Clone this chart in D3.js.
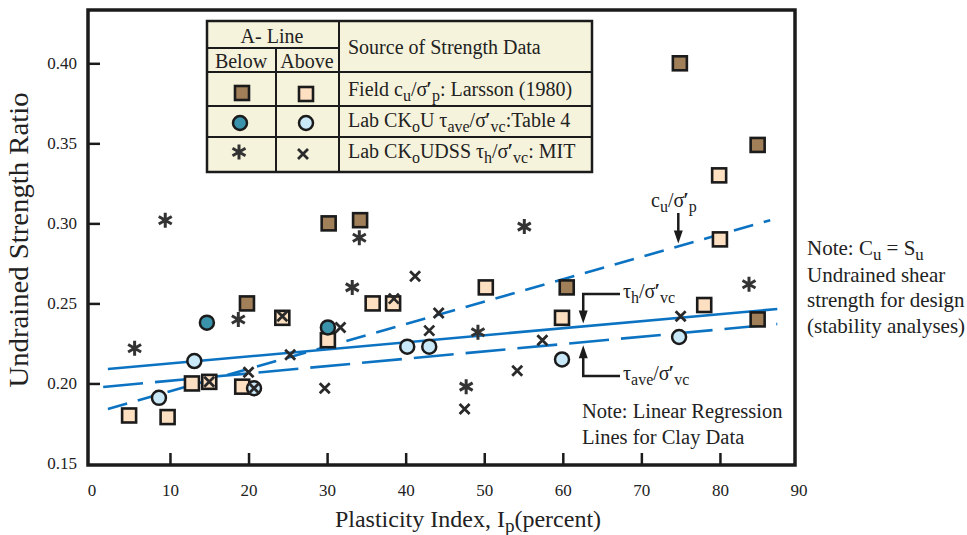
<!DOCTYPE html>
<html>
<head>
<meta charset="utf-8">
<script src="https://cdn.jsdelivr.net/npm/d3@7"></script>
<style>
  body { margin: 0; background: #fff; }
  text { font-family: "Liberation Serif", "Times New Roman", serif; fill: #222; }
</style>
</head>
<body>
<div id="container"></div>
<script>
const WIDTH = 967;
const HEIGHT = 535;

// [plasticity index, strength ratio]
const fieldBelow = [[74.9, 0.400], [84.8, 0.349], [30.2, 0.300], [34.2, 0.302], [19.8, 0.250],
                    [60.5, 0.260], [84.8, 0.240]];
const fieldAbove = [[79.9, 0.330], [80.0, 0.290], [35.8, 0.250], [38.4, 0.250], [24.3, 0.241],
                    [30.1, 0.227], [12.8, 0.200], [15.0, 0.201], [19.2, 0.198], [4.8, 0.180],
                    [9.7, 0.179], [50.2, 0.260], [59.9, 0.241], [78.0, 0.249]];
const ckouBelow = [[14.7, 0.238], [30.1, 0.235]];
const ckouAbove = [[13.1, 0.214], [20.7, 0.197], [8.6, 0.191], [40.2, 0.223], [43.0, 0.223],
                   [59.9, 0.215], [74.8, 0.229]];
const dssBelow = [[9.4, 0.302], [34.1, 0.291], [33.2, 0.260], [18.7, 0.240], [5.5, 0.222],
                  [55.1, 0.298], [83.7, 0.262], [49.2, 0.232], [47.7, 0.198]];
const dssAbove = [[24.3, 0.242], [31.7, 0.235], [25.3, 0.218], [20.0, 0.207], [15.0, 0.201],
                  [20.7, 0.197], [29.7, 0.197], [38.5, 0.253], [41.2, 0.267], [44.2, 0.244],
                  [43.0, 0.233], [57.4, 0.227], [54.2, 0.208], [47.5, 0.184], [75.0, 0.242]];

// regression lines, end points
const cuLine = [[2.1, 0.184], [86.4, 0.302]];
const tauHLine = [[2.1, 0.209], [87.3, 0.2465]];
const tauAveLine = [[1.5, 0.1978], [87.3, 0.2371]];

const xTicks = [0, 10, 20, 30, 40, 50, 60, 70, 80, 90];
const yTicks = [0.15, 0.20, 0.25, 0.30, 0.35, 0.40];

const BROWN = '#a17f59';
const PEACH = '#fde0c2';
const TEAL = '#3a93aa';
const PALE = '#c9e9f8';
const BLUE = '#0c73c2';
const INK = '#1b1b1b';
const SERIF = '"Liberation Serif", "Times New Roman", serif';

const svg = d3.select('#container')
              .append('svg')
                .attr('width', WIDTH)
                .attr('height', HEIGHT);

const x = d3.scaleLinear().domain([0, 90]).range([91.4, 798.5]);
const y = d3.scaleLinear().domain([0.15, 0.40]).range([463.5, 63.3]);

// axes, ticks pointing inward
const xAxis = svg.append('g')
                 .attr('transform', 'translate(0, 465)')
                 .call(d3.axisBottom(x).tickValues(xTicks).tickFormat(d3.format('d'))
                         .tickSize(-12).tickPadding(19));
const yAxis = svg.append('g')
                 .attr('transform', 'translate(88, 0)')
                 .call(d3.axisLeft(y).tickValues(yTicks).tickFormat(d3.format('.2f'))
                         .tickSize(-12).tickPadding(11));

[xAxis, yAxis].forEach(a => {
    a.attr('font-family', SERIF).attr('font-size', 17);
    a.select('.domain').remove();
    a.selectAll('.tick line').attr('stroke', INK).attr('stroke-width', 2.5);
    a.selectAll('.tick text')
       .style('font-family', SERIF)
       .style('font-size', '17px')
       .attr('fill', '#333');
});
xAxis.selectAll('.tick line').filter(d => d === 0 || d === 90).remove();
yAxis.selectAll('.tick line').filter(d => d === 0.15).remove();

// regression lines
const line = d3.line().x(d => x(d[0])).y(d => y(d[1]));
const regs = [
    { pts: cuLine, dash: '20,11' },
    { pts: tauHLine, dash: null },
    { pts: tauAveLine, dash: '40,12' }
];
svg.selectAll('.reg')
   .data(regs)
   .enter()
   .append('path')
     .attr('class', 'reg')
     .attr('d', d => line(d.pts))
     .attr('fill', 'none')
     .attr('stroke', BLUE)
     .attr('stroke-width', 2.6)
     .attr('stroke-dasharray', d => d.dash);

// marker painters
const asteriskPath = r => {
    const u = r * Math.sqrt(3) / 2, t = r / 2;
    return `M0,${-r}L0,${r}M${-u},${-t}L${u},${t}M${-u},${t}L${u},${-t}`;
};
const crossPath = r => `M${-r},${-r}L${r},${r}M${-r},${r}L${r},${-r}`;

const drawSquares = (g, data, fill) => g.selectAll(null).data(data).enter()
    .append('rect')
      .attr('x', d => d[0] - 7).attr('y', d => d[1] - 7)
      .attr('width', 14).attr('height', 14)
      .attr('fill', fill).attr('stroke', INK).attr('stroke-width', 2.6);
const drawCircles = (g, data, fill) => g.selectAll(null).data(data).enter()
    .append('circle')
      .attr('cx', d => d[0]).attr('cy', d => d[1]).attr('r', 7)
      .attr('fill', fill).attr('stroke', INK).attr('stroke-width', 2.5);
const drawAsterisks = (g, data) => g.selectAll(null).data(data).enter()
    .append('path')
      .attr('transform', d => `translate(${d[0]},${d[1]})`)
      .attr('d', asteriskPath(7.5))
      .attr('stroke', '#333').attr('stroke-width', 3);
const drawCrosses = (g, data) => g.selectAll(null).data(data).enter()
    .append('path')
      .attr('transform', d => `translate(${d[0]},${d[1]})`)
      .attr('d', crossPath(5))
      .attr('stroke', '#2a2a2a').attr('stroke-width', 2.8);

const toPx = data => data.map(d => [x(d[0]), y(d[1])]);
const marks = svg.append('g');
drawSquares(marks, toPx(fieldBelow), BROWN);
drawSquares(marks, toPx(fieldAbove), PEACH);
drawCircles(marks, toPx(ckouBelow), TEAL);
drawCircles(marks, toPx(ckouAbove), PALE);
drawAsterisks(marks, toPx(dssBelow));
drawCrosses(marks, toPx(dssAbove));

// frame
svg.append('rect')
     .attr('x', 88).attr('y', 10)
     .attr('width', 707).attr('height', 455)
     .attr('fill', 'none')
     .attr('stroke', INK)
     .attr('stroke-width', 3.5);

// rich text helper: parts are [text, 'sub' | 'prime' | null]
const richText = (g, px, py, parts, size, anchor) => {
    const t = g.append('text')
               .attr('x', px).attr('y', py)
               .attr('text-anchor', anchor || 'start')
               .style('font-size', size + 'px');
    let shift = 0;
    parts.forEach(([s, kind]) => {
        const sp = t.append('tspan').text(s);
        if (kind === 'sub') {
            sp.attr('dy', 5 - shift).style('font-size', (size * 0.8) + 'px');
            shift = 5;
        } else if (kind === 'prime') {
            sp.attr('dy', -shift).style('font-weight', 'bold').attr('dx', -1);
            shift = 0;
        } else {
            sp.attr('dy', -shift);
            shift = 0;
        }
    });
    return t;
};

// legend table
const LX = 207, LY = 21;
const legend = svg.append('g');
legend.append('rect')
        .attr('x', LX).attr('y', LY)
        .attr('width', 385).attr('height', 151)
        .attr('fill', '#f6f3dc')
        .attr('stroke', INK).attr('stroke-width', 2.5);
const tableLines = [
    [276, 48, 276, 172], [339, 21, 339, 172],
    [207, 48, 339, 48], [207, 72, 592, 72], [207, 106, 592, 106], [207, 137, 592, 137]
];
legend.selectAll('line')
      .data(tableLines)
      .enter()
      .append('line')
        .attr('x1', d => d[0]).attr('y1', d => d[1])
        .attr('x2', d => d[2]).attr('y2', d => d[3])
        .attr('stroke', INK).attr('stroke-width', 2);

richText(legend, 272, 43, [['A- Line']], 20, 'middle');
richText(legend, 241, 68, [['Below']], 20, 'middle');
richText(legend, 307, 68, [['Above']], 20, 'middle');
richText(legend, 348, 54, [['Source of Strength Data']], 20);
richText(legend, 348, 96, [['Field c'], ['u', 'sub'], ['/σ'], ['′', 'prime'], ['p', 'sub'],
                           [': Larsson (1980)']], 20);
richText(legend, 348, 127, [['Lab CK'], ['o', 'sub'], ['U τ'], ['ave', 'sub'], ['/σ'],
                            ['′', 'prime'], ['vc', 'sub'], [':Table 4']], 20);
richText(legend, 348, 158, [['Lab CK'], ['o', 'sub'], ['UDSS τ'], ['h', 'sub'], ['/σ'],
                            ['′', 'prime'], ['vc', 'sub'], [': MIT']], 20);

drawSquares(legend, [[242, 93]], BROWN);
drawSquares(legend, [[306, 94]], PEACH);
drawCircles(legend, [[240, 123]], TEAL);
drawCircles(legend, [[306, 123]], PALE);
drawAsterisks(legend, [[239, 152]]);
drawCrosses(legend, [[303, 154]]);

// annotations with arrows
const at = (pts, v) => {
    const [[x0, y0], [x1, y1]] = pts;
    return y0 + (y1 - y0) * (v - x0) / (x1 - x0);
};
const arrowHead = (g, px, py, dir) => {
    g.append('path')
       .attr('d', `M${px},${py}L${px - 4.5},${py - dir * 13}L${px + 4.5},${py - dir * 13}Z`)
       .attr('fill', INK);
};
const notes = svg.append('g');

const cuAt = 74.7;
const cuTip = y(at(cuLine, cuAt)) - 3;
notes.append('line')
       .attr('x1', x(cuAt)).attr('y1', 213).attr('x2', x(cuAt)).attr('y2', cuTip - 10)
       .attr('stroke', INK).attr('stroke-width', 2.5);
arrowHead(notes, x(cuAt), cuTip, 1);
richText(notes, 651, 207, [['c'], ['u', 'sub'], ['/σ'], ['′', 'prime'], ['p', 'sub']], 20);

const tauAt = 62.6;
const hTip = y(at(tauHLine, tauAt)) - 3;
notes.append('path')
       .attr('d', `M620,294H${x(tauAt)}V${hTip - 10}`)
       .attr('fill', 'none').attr('stroke', INK).attr('stroke-width', 2.5);
arrowHead(notes, x(tauAt), hTip, 1);
richText(notes, 623, 298, [['τ'], ['h', 'sub'], ['/σ'], ['′', 'prime'], ['vc', 'sub']], 20);

const aveTip = y(at(tauAveLine, tauAt)) + 3;
notes.append('path')
       .attr('d', `M620,376H${x(tauAt)}V${aveTip + 10}`)
       .attr('fill', 'none').attr('stroke', INK).attr('stroke-width', 2.5);
arrowHead(notes, x(tauAt), aveTip, -1);
richText(notes, 623, 380, [['τ'], ['ave', 'sub'], ['/σ'], ['′', 'prime'], ['vc', 'sub']], 20);

richText(notes, 582, 418, [['Note: Linear Regression']], 20.5);
richText(notes, 582, 444, [['Lines for Clay Data']], 20.5);

// right side note
richText(notes, 807, 255, [['Note: C'], ['u', 'sub'], [' = S'], ['u', 'sub']], 21);
richText(notes, 807, 282, [['Undrained shear']], 21);
richText(notes, 807, 307, [['strength for design']], 21);
richText(notes, 807, 333, [['(stability analyses)']], 21);

// axis titles
richText(svg, 468, 527, [['Plasticity Index, I'], ['p', 'sub'], ['(percent)']], 24, 'middle');
svg.append('text')
     .attr('transform', 'translate(28, 240) rotate(-90)')
     .attr('text-anchor', 'middle')
     .attr('textLength', 295)
     .attr('lengthAdjust', 'spacingAndGlyphs')
     .style('font-size', '27px')
     .text('Undrained Strength Ratio');
</script>
</body>
</html>
